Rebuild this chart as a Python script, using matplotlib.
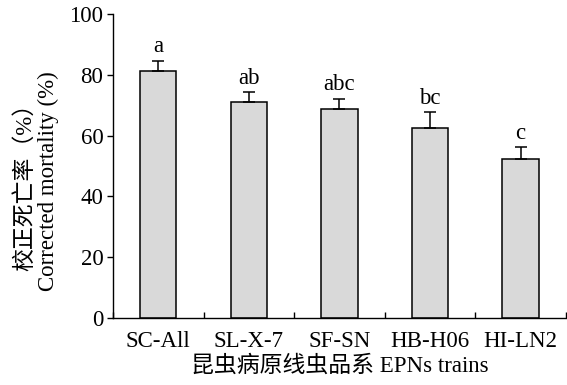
import numpy as np
import matplotlib
matplotlib.use("Agg")
import matplotlib.pyplot as plt

plt.rcParams['font.family'] = ['Liberation Serif', 'Noto Sans CJK SC']

strains = ["SC-All", "SL-X-7", "SF-SN", "HB-H06", "HI-LN2"]
mortality = [81.3, 70.9, 68.8, 62.6, 52.3]
std_err = [3.3, 3.3, 3.3, 5.1, 3.9]
letters = ["a", "ab", "abc", "bc", "c"]

FS = 16.5

fig = plt.figure(figsize=(5.67, 3.85), dpi=100)
ax = fig.add_axes([0.1993, 0.174, 0.7987, 0.7896])

x = np.arange(len(strains))
ax.bar(x, mortality, width=0.4, color="#d9d9d9", edgecolor="black", linewidth=1.1, zorder=2)
ax.errorbar(x, mortality, yerr=[np.zeros(len(x)), std_err], fmt="none",
            ecolor="black", elinewidth=1.1, capsize=4, capthick=1.1, zorder=3)

for xi, m, e, lab in zip(x, mortality, std_err, letters):
    ax.text(xi, m + e + 1.2, lab, ha="center", va="bottom", fontsize=FS)

ax.set_xlim(-0.5, 4.5)
ax.set_ylim(0, 100)
ax.set_yticks(range(0, 101, 20))
ax.set_xticks(x)
ax.set_xticks(np.arange(-0.5, 4.6, 1.0), minor=True)
ax.set_xticklabels(strains, fontsize=FS)
ax.tick_params(axis="y", direction="out", length=4, width=1, labelsize=FS, pad=3)
ax.tick_params(axis="x", which="both", direction="in", length=4, width=1, pad=9)
for s in ["top", "right"]:
    ax.spines[s].set_visible(False)
for s in ["left", "bottom"]:
    ax.spines[s].set_linewidth(1)

ax.set_ylabel("校正死亡率（%）\nCorrected mortality (%)", fontsize=FS, linespacing=1.1, labelpad=4)
ax.yaxis.set_label_coords(-0.12, 0.45)
ax.set_xlabel("昆虫病原线虫品系 EPNs trains", fontsize=FS, labelpad=3)

fig.savefig("out.png", dpi=100)
